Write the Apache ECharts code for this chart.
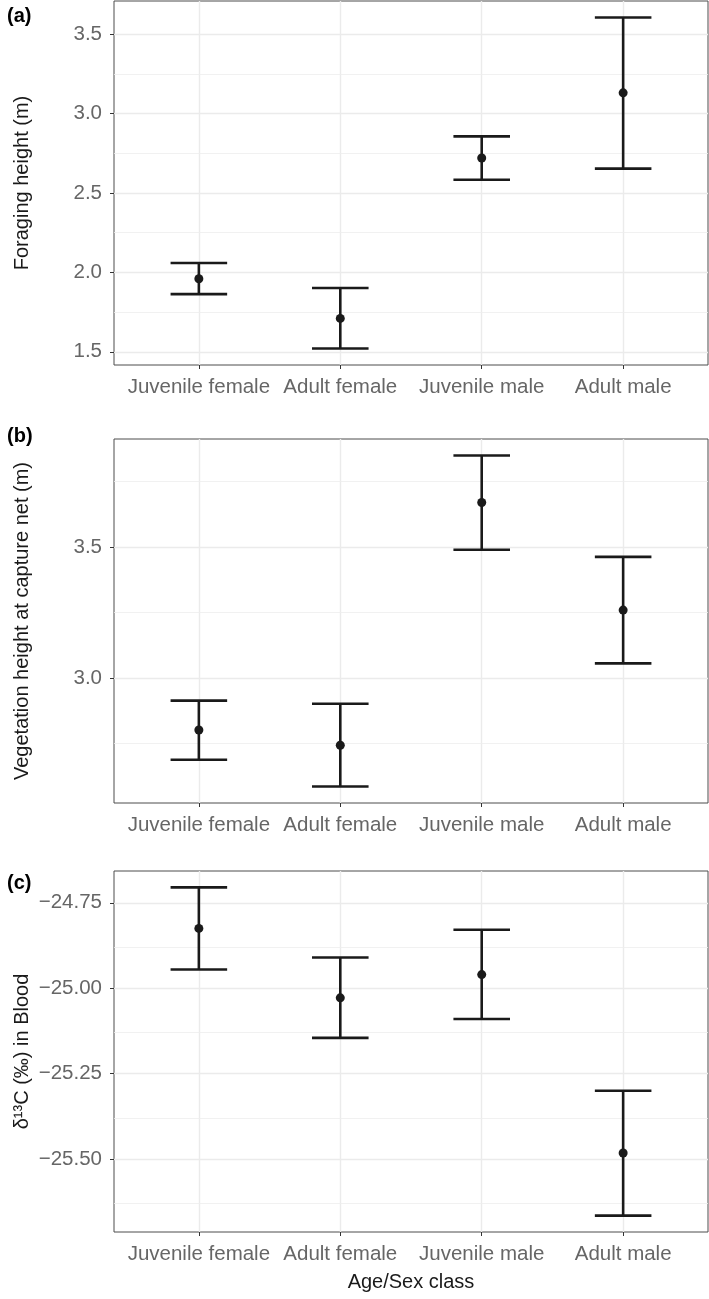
<!DOCTYPE html>
<html>
<head>
<meta charset="utf-8">
<script src="https://cdn.jsdelivr.net/npm/echarts@6/dist/echarts.min.js"></script>
<style>
  html, body { margin: 0; padding: 0; background: #fff; }
  #chart { width: 709px; height: 1299px; }
</style>
</head>
<body>
<div id="chart"></div>
<script>
const groups = ['Juvenile female', 'Adult female', 'Juvenile male', 'Adult male'];

// (a) foraging height
const foragingMean = [1.96, 1.71, 2.72, 3.13];
const foragingLow = [1.863, 1.521, 2.583, 2.653];
const foragingHigh = [2.059, 1.902, 2.856, 3.604];
const foragingTicks = [1.5, 2.0, 2.5, 3.0, 3.5];
const foragingMinor = [1.75, 2.25, 2.75, 3.25];

// (b) vegetation height at capture net
const vegMean = [2.802, 2.744, 3.669, 3.259];
const vegLow = [2.689, 2.587, 3.489, 3.056];
const vegHigh = [2.914, 2.902, 3.848, 3.462];
const vegTicks = [3.0, 3.5];
const vegMinor = [2.75, 3.25, 3.75];

// (c) d13C in blood
const carbonMean = [-24.825, -25.028, -24.960, -25.482];
const carbonLow = [-24.945, -25.145, -25.090, -25.665];
const carbonHigh = [-24.705, -24.910, -24.829, -25.300];
const carbonTicks = [-25.5, -25.25, -25.0, -24.75];
const carbonMinor = [-25.625, -25.375, -25.125, -24.875];

const font = 'Liberation Sans, Arial, Helvetica, sans-serif';
const chart = echarts.init(document.getElementById('chart'));

// ggplot-like 5% expansion of the data range
function expand (lo, hi) {
  const a = Math.min(...lo), b = Math.max(...hi)
  const d = (b - a) * 0.05
  return [a - d, b + d]
}

const panels = [
  { tag: '(a)', title: 'Foraging height (m)', mean: foragingMean, low: foragingLow, high: foragingHigh,
    ticks: foragingTicks, minor: foragingMinor, digits: 1, top: 1, height: 364, tagY: 17 },
  { tag: '(b)', title: 'Vegetation height at capture net (m)', mean: vegMean, low: vegLow, high: vegHigh,
    ticks: vegTicks, minor: vegMinor, digits: 1, top: 439, height: 364, tagY: 437 },
  { tag: '(c)', title: 'δ¹³C (‰) in Blood', mean: carbonMean, low: carbonLow, high: carbonHigh,
    ticks: carbonTicks, minor: carbonMinor, digits: 2, top: 871, height: 361, tagY: 884 }
]

const grid = [], xAxis = [], yAxis = [], series = [], graphic = []

panels.forEach((p, k) => {
  const range = expand(p.low, p.high)
  grid.push({
    left: 114, right: 1, top: p.top, height: p.height,
    show: true, borderColor: '#4d4d4d', borderWidth: 1, backgroundColor: '#fff'
  })
  xAxis.push({
    type: 'value', gridIndex: k, min: 0.4, max: 4.6,
    axisLine: { show: false },
    axisTick: { show: true, length: 4, customValues: [1, 2, 3, 4], lineStyle: { color: '#333', width: 1 } },
    axisLabel: {
      customValues: [1, 2, 3, 4], margin: 12, fontSize: 20.5, fontFamily: font, color: '#666',
      formatter: v => groups[Math.round(v) - 1]
    },
    splitLine: { show: true, lineStyle: { color: '#ebebeb', width: 1.4 } },
    name: k === 2 ? 'Age/Sex class' : '',
    nameLocation: 'middle', nameGap: 40, nameMoveOverlap: false,
    nameTextStyle: { fontSize: 20, fontFamily: font, color: '#1a1a1a' }
  })
  yAxis.push({
    type: 'value', gridIndex: k, min: range[0], max: range[1],
    axisLine: { show: false },
    axisTick: { show: true, length: 4, customValues: p.ticks, lineStyle: { color: '#333', width: 1 } },
    axisLabel: {
      customValues: p.ticks, margin: 12, fontSize: 20.5, fontFamily: font, color: '#666',
      formatter: v => v.toFixed(p.digits).replace('-', '−')
    },
    splitLine: { show: true, lineStyle: { color: '#ebebeb', width: 1.4 } },
    name: p.title, nameLocation: 'middle', nameRotate: 90, nameGap: 82, nameMoveOverlap: false,
    nameTextStyle: { fontSize: 20, fontFamily: font, color: '#1a1a1a' }
  })
  // minor grid lines
  series.push({
    type: 'line', xAxisIndex: k, yAxisIndex: k, data: [], z: 1, silent: true,
    markLine: {
      z: 1, silent: true, symbol: 'none', label: { show: false },
      lineStyle: { color: '#ededed', width: 0.8, type: 'solid' },
      data: p.minor.map(v => ({ yAxis: v }))
    }
  })
  // error bars
  series.push({
    type: 'custom', xAxisIndex: k, yAxisIndex: k, z: 6, silent: true,
    encode: { x: 0, y: [1, 2] },
    data: groups.map((g, i) => [i + 1, p.low[i], p.high[i]]),
    renderItem (params, api) {
      const x = api.value(0), lo = api.value(1), hi = api.value(2)
      const pLo = api.coord([x, lo]), pHi = api.coord([x, hi])
      const l = api.coord([x - 0.2, lo])[0], r = api.coord([x + 0.2, lo])[0]
      const st = { stroke: '#1a1a1a', lineWidth: 2.6 }
      return {
        type: 'group',
        children: [
          { type: 'line', shape: { x1: pLo[0], y1: pLo[1], x2: pHi[0], y2: pHi[1] }, style: st },
          { type: 'line', shape: { x1: l, y1: pHi[1], x2: r, y2: pHi[1] }, style: st },
          { type: 'line', shape: { x1: l, y1: pLo[1], x2: r, y2: pLo[1] }, style: st }
        ]
      }
    }
  })
  // means
  series.push({
    type: 'scatter', xAxisIndex: k, yAxisIndex: k, z: 8, silent: true,
    symbolSize: 9, itemStyle: { color: '#1a1a1a', opacity: 1 },
    data: p.mean.map((m, i) => [i + 1, m])
  })
  graphic.push({
    type: 'text', left: 7, top: p.tagY - 11,
    style: { text: p.tag, font: 'bold 20px ' + font, fill: '#000' }
  })
})

chart.setOption({
  animation: false,
  grid: grid,
  xAxis: xAxis,
  yAxis: yAxis,
  series: series,
  graphic: graphic
})
</script>
</body>
</html>
